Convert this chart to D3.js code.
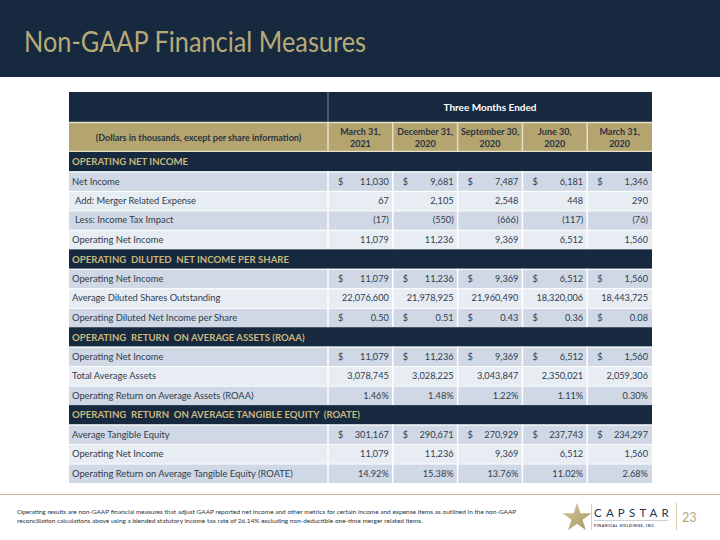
<!DOCTYPE html>
<html>
<head>
<meta charset="utf-8">
<script src="https://cdn.jsdelivr.net/npm/d3@7"></script>
<style>
  html, body { margin: 0; padding: 0; background: #ffffff; }
  svg { display: block; }
  text { font-family: Lato, "Open Sans", sans-serif; }
</style>
</head>
<body>
<svg id="chart" width="720" height="540"></svg>
<script>
// ---------- DATA ----------
const title = "Non-GAAP Financial Measures";
const spanHeader = "Three Months Ended";
const labelHeader = "(Dollars in thousands, except per share information)";
const periodLine1 = ["March 31,", "December 31,", "September 30,", "June 30,", "March 31,"];
const periodLine2 = ["2021", "2020", "2020", "2020", "2020"];
const sectionTitles = [
  "OPERATING NET INCOME",
  "OPERATING  DILUTED  NET INCOME PER SHARE",
  "OPERATING  RETURN  ON AVERAGE ASSETS (ROAA)",
  "OPERATING  RETURN  ON AVERAGE TANGIBLE EQUITY  (ROATE)"
];
const netIncome = [11030, 9681, 7487, 6181, 1346];
const mergerExpense = [67, 2105, 2548, 448, 290];
const taxImpact = [-17, -550, -666, -117, -76];
const operatingNetIncome = [11079, 11236, 9369, 6512, 1560];
const dilutedShares = [22076600, 21978925, 21960490, 18320006, 18443725];
const dilutedEPS = [0.50, 0.51, 0.43, 0.36, 0.08];
const totalAvgAssets = [3078745, 3028225, 3043847, 2350021, 2059306];
const roaa = [1.46, 1.48, 1.22, 1.11, 0.30];
const avgTangibleEquity = [301167, 290671, 270929, 237743, 234297];
const roate = [14.92, 15.38, 13.76, 11.02, 2.68];
const footnote1 = "Operating results are non-GAAP financial measures that adjust GAAP reported net income and other metrics for certain income and expense items as outlined in the non-GAAP";
const footnote2 = "reconciliation calculations above using a blended statutory income tax rate of 26.14% excluding non-deductible one-time merger related items.";
const pageNumber = "23";

// ---------- TABLE MODEL (built from arrays) ----------
const rows = [
  {type: "section", label: sectionTitles[0]},
  {type: "data", label: "Net Income", values: netIncome, fmt: "int", dollar: true},
  {type: "data", label: "Add: Merger Related Expense", values: mergerExpense, fmt: "int", indent: true},
  {type: "data", label: "Less: Income Tax Impact", values: taxImpact, fmt: "int", indent: true},
  {type: "data", label: "Operating Net Income", values: operatingNetIncome, fmt: "int"},
  {type: "section", label: sectionTitles[1]},
  {type: "data", label: "Operating Net Income", values: operatingNetIncome, fmt: "int", dollar: true},
  {type: "data", label: "Average Diluted Shares Outstanding", values: dilutedShares, fmt: "int"},
  {type: "data", label: "Operating Diluted Net Income per Share", values: dilutedEPS, fmt: "eps", dollar: true},
  {type: "section", label: sectionTitles[2]},
  {type: "data", label: "Operating Net Income", values: operatingNetIncome, fmt: "int", dollar: true},
  {type: "data", label: "Total Average Assets", values: totalAvgAssets, fmt: "int"},
  {type: "data", label: "Operating Return on Average Assets (ROAA)", values: roaa, fmt: "pct"},
  {type: "section", label: sectionTitles[3]},
  {type: "data", label: "Average Tangible Equity", values: avgTangibleEquity, fmt: "int", dollar: true},
  {type: "data", label: "Operating Net Income", values: operatingNetIncome, fmt: "int"},
  {type: "data", label: "Operating Return on Average Tangible Equity (ROATE)", values: roate, fmt: "pct"}
];
// alternate shading restarts after each section
let k = 0;
rows.forEach(r => { if (r.type === "section") k = 0; else { r.shade = k % 2 === 0 ? "dark" : "light"; k++; } });

const fInt = d3.format(",");
const f2 = d3.format(".2f");
function fmtVal(v, fmt) {
  if (fmt === "eps") return f2(v);
  if (fmt === "pct") return f2(v) + "%";
  return v < 0 ? "(" + fInt(-v) + ")" : fInt(v);
}

// ---------- STYLE ----------
const NAVY = "#16293e";
const GOLD = "#b4a46f";
const GOLD_TEXT = "#cab87e";
const ROW_DARK = "#d0d8e5";
const ROW_LIGHT = "#e8ecf3";
const TEXT = "#2f3d4e";

const svg = d3.select("#chart");
const W = 720, H = 540;

// banner
svg.append("rect").attr("x", 0).attr("y", 0).attr("width", W).attr("height", 77).attr("fill", NAVY);
svg.append("text").attr("x", 24).attr("y", 52).text(title)
  .attr("font-size", 28).attr("font-weight", 400).attr("fill", "#b8aa78")
  .attr("textLength", 342).attr("lengthAdjust", "spacingAndGlyphs");

// geometry
const tableLeft = 69, labelRight = 328, tableRight = 652;
const x = d3.scaleBand().domain(d3.range(periodLine1.length)).range([labelRight, tableRight]);
const y = d3.scaleBand().domain(d3.range(rows.length)).range([152, 483]);
const headTop = 92, headMid = 122, headBottom = 152;

// header row 1
svg.append("rect").attr("x", tableLeft).attr("y", headTop).attr("width", tableRight - tableLeft)
  .attr("height", headMid - headTop).attr("fill", NAVY);
svg.append("line").attr("x1", labelRight).attr("x2", labelRight).attr("y1", headTop).attr("y2", headMid)
  .attr("stroke", "#7d8a99").attr("stroke-width", 1);
svg.append("text").attr("x", (labelRight + tableRight) / 2).attr("y", headTop + 19)
  .attr("text-anchor", "middle").attr("font-size", 10).attr("font-weight", 700).attr("fill", "#ffffff")
  .text(spanHeader);

// header row 2 (gold)
svg.append("rect").attr("x", tableLeft).attr("y", headMid).attr("width", tableRight - tableLeft)
  .attr("height", headBottom - headMid).attr("fill", GOLD);
svg.append("line").attr("x1", tableLeft).attr("x2", tableRight).attr("y1", headMid + 0.5).attr("y2", headMid + 0.5)
  .attr("stroke", "#e6dfc8").attr("stroke-width", 1.5);
svg.append("line").attr("x1", tableLeft).attr("x2", tableRight).attr("y1", headBottom - 0.5).attr("y2", headBottom - 0.5)
  .attr("stroke", "#e6dfc8").attr("stroke-width", 1.5);
svg.selectAll(".gsep").data(d3.range(periodLine1.length)).join("line")
  .attr("x1", i => x(i)).attr("x2", i => x(i)).attr("y1", headMid).attr("y2", headBottom)
  .attr("stroke", "#e6dfc8").attr("stroke-width", 1.5);
svg.append("text").attr("x", (tableLeft + labelRight) / 2).attr("y", headMid + 19)
  .attr("text-anchor", "middle").attr("font-size", 9).attr("font-weight", 700).attr("fill", "#2a3340")
  .text(labelHeader);
const ph = svg.selectAll(".phead").data(d3.range(periodLine1.length)).join("text")
  .attr("text-anchor", "middle").attr("font-size", 9).attr("font-weight", 700).attr("fill", "#2a3340");
ph.append("tspan").attr("x", i => x(i) + x.bandwidth() / 2).attr("y", headMid + 13).text(i => periodLine1[i]);
ph.append("tspan").attr("x", i => x(i) + x.bandwidth() / 2).attr("y", headMid + 25).text(i => periodLine2[i]);

// body rows
const g = svg.append("g");
const rowG = g.selectAll(".row").data(rows).join("g").attr("transform", (d, i) => `translate(0,${y(i)})`);
rowG.append("rect").attr("x", tableLeft).attr("y", 0).attr("width", tableRight - tableLeft)
  .attr("height", y.bandwidth())
  .attr("fill", d => d.type === "section" ? NAVY : (d.shade === "dark" ? ROW_DARK : ROW_LIGHT));

const dataG = rowG.filter(d => d.type === "data");
// white separators
dataG.append("line").attr("x1", tableLeft).attr("x2", tableRight).attr("y1", 0.5).attr("y2", 0.5)
  .attr("stroke", "#ffffff").attr("stroke-width", 1);
dataG.selectAll(".vsep").data(d3.range(periodLine1.length)).join("line")
  .attr("x1", i => x(i)).attr("x2", i => x(i)).attr("y1", 0).attr("y2", y.bandwidth())
  .attr("stroke", "#ffffff").attr("stroke-width", 1.5);

const mid = y.bandwidth() / 2 + 3.3;
rowG.filter(d => d.type === "section").append("text")
  .attr("x", tableLeft + 3).attr("y", mid + 0.3)
  .attr("font-size", 9.6).attr("font-weight", 700).attr("fill", GOLD_TEXT)
  .style("white-space", "pre").text(d => d.label);

dataG.append("text").attr("x", d => tableLeft + (d.indent ? 6 : 3)).attr("y", mid)
  .attr("font-size", 9.35).attr("fill", TEXT).text(d => d.label);

dataG.selectAll(".val").data(d => d.values.map((v, i) => ({v, i, fmt: d.fmt}))).join("text")
  .attr("x", c => x(c.i) + x.bandwidth() - 4).attr("y", mid)
  .attr("text-anchor", "end").attr("font-size", 9.2).attr("fill", TEXT)
  .text(c => fmtVal(c.v, c.fmt));
dataG.filter(d => d.dollar).selectAll(".dol").data(d => d.values.map((v, i) => i)).join("text")
  .attr("x", i => x(i) + 10).attr("y", mid)
  .attr("font-size", 9.2).attr("fill", TEXT).text("$");

// footer rule
svg.append("line").attr("x1", 0).attr("x2", W).attr("y1", 494.5).attr("y2", 494.5)
  .attr("stroke", "#cbbd90").attr("stroke-width", 1.2);

// footnote
const fn = svg.append("text").attr("font-size", 6.5).attr("fill", "#2b3440");
fn.append("tspan").attr("x", 17).attr("y", 514).text(footnote1);
fn.append("tspan").attr("x", 17).attr("y", 523).text(footnote2);

// logo
const star = d3.symbol().type(d3.symbolStar).size(260);
const grad = svg.append("defs").append("linearGradient").attr("id", "sg").attr("x1", 0).attr("x2", 1).attr("y1", 0).attr("y2", 1);
grad.append("stop").attr("offset", "0%").attr("stop-color", "#d8caa0");
grad.append("stop").attr("offset", "100%").attr("stop-color", "#a8945e");
svg.append("path").attr("d", star()).attr("transform", "translate(577,518)").attr("fill", "url(#sg)");
svg.append("line").attr("x1", 591.5).attr("x2", 591.5).attr("y1", 504).attr("y2", 530).attr("stroke", "#c9bc94").attr("stroke-width", 0.7);
svg.append("text").attr("x", 594).attr("y", 517).attr("font-size", 11.5).attr("font-weight", 400)
  .attr("letter-spacing", 4.2).attr("fill", "#1f3553").text("CAPSTAR");
svg.append("line").attr("x1", 594).attr("x2", 668).attr("y1", 520.5).attr("y2", 520.5).attr("stroke", "#9aa3ad").attr("stroke-width", 0.5);
svg.append("text").attr("x", 594).attr("y", 527).attr("font-size", 3.6).attr("font-weight", 700)
  .attr("letter-spacing", 0.6).attr("fill", "#2b3a55").text("FINANCIAL HOLDINGS, INC.");
svg.append("line").attr("x1", 676.5).attr("x2", 676.5).attr("y1", 503).attr("y2", 530).attr("stroke", "#d4c9a6").attr("stroke-width", 1);
svg.append("text").attr("x", 682).attr("y", 522).attr("font-size", 12.5).attr("fill", "#b3a97f").text(pageNumber);
</script>
</body>
</html>
